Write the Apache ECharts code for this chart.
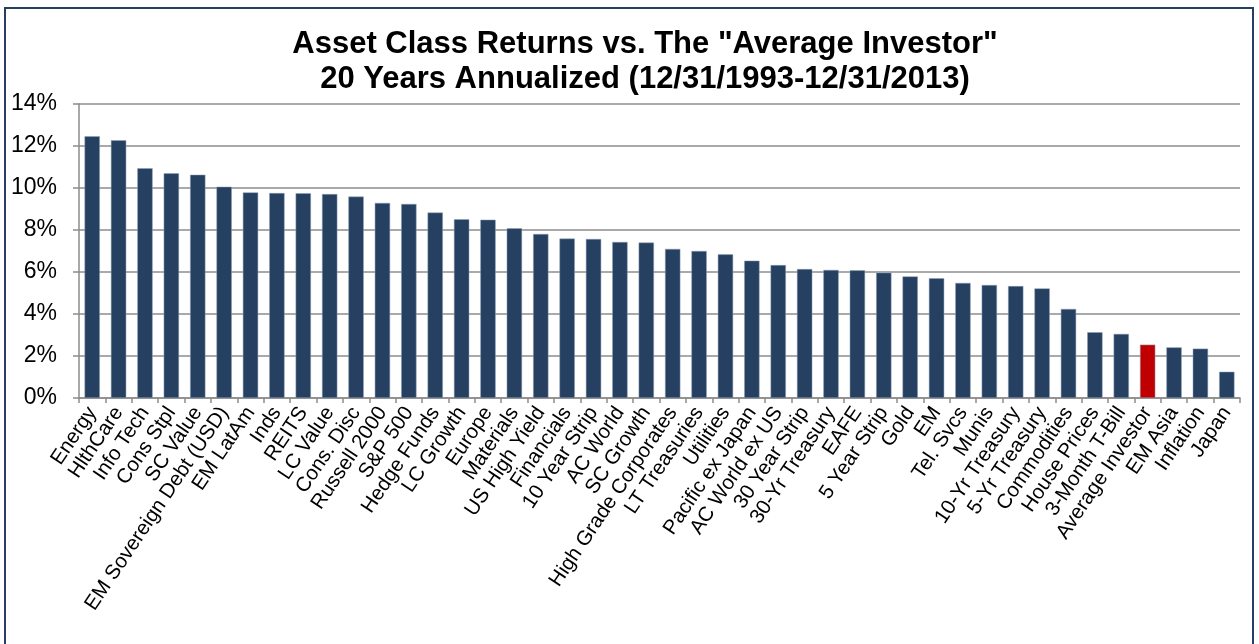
<!DOCTYPE html>
<html>
<head>
<meta charset="utf-8">
<script src="https://cdn.jsdelivr.net/npm/echarts@6/dist/echarts.min.js"></script>
<style>
  html, body { margin: 0; padding: 0; background: #fff; }
  #chart { width: 1259px; height: 644px; }
</style>
</head>
<body>
<div id="chart"></div>
<script>
// asset classes, sorted by 20y annualized return
var categories = ['Energy', 'HlthCare', 'Info Tech', 'Cons Stpl', 'SC Value', 'EM Sovereign Debt (USD)',
  'EM LatAm', 'Inds', 'REITS', 'LC Value', 'Cons. Disc', 'Russell 2000', 'S&P 500', 'Hedge Funds',
  'LC Growth', 'Europe', 'Materials', 'US High Yield', 'Financials', '10 Year Strip', 'AC World',
  'SC Growth', 'High Grade Corporates', 'LT Treasuries', 'Utilities', 'Pacific ex Japan',
  'AC World ex US', '30 Year Strip', '30-Yr Treasury', 'EAFE', '5 Year Strip', 'Gold', 'EM',
  'Tel. Svcs', 'Munis', '10-Yr Treasury', '5-Yr Treasury', 'Commodities', 'House Prices',
  '3-Month T-Bill', 'Average Investor', 'EM Asia', 'Inflation', 'Japan'];

var returns = [12.46, 12.27, 10.94, 10.70, 10.63, 10.06,
  9.79, 9.76, 9.75, 9.71, 9.59, 9.29, 9.24, 8.83,
  8.51, 8.49, 8.08, 7.81, 7.59, 7.57, 7.43,
  7.40, 7.10, 7.00, 6.84, 6.54,
  6.33, 6.14, 6.10, 6.08, 5.97, 5.79, 5.70,
  5.48, 5.38, 5.33, 5.22, 4.24, 3.13,
  3.05, 2.54, 2.41, 2.35, 1.25];

var highlight = 'Average Investor';
var yTicks = { min: 0, max: 14, step: 2 };

var chart = echarts.init(document.getElementById('chart'));

var barData = returns.map(function (v, i) {
  return {
    value: v,
    itemStyle: { color: categories[i] === highlight ? '#c00000' : '#264061' }
  };
});

chart.setOption({
  animation: false,
  textStyle: { fontFamily: 'Liberation Sans, Arial, sans-serif' },
  graphic: [{
    type: 'rect',
    shape: { x: 5, y: 8, width: 1248, height: 660 },
    style: { fill: 'none', stroke: '#243f60', lineWidth: 2 },
    silent: true
  }],
  title: {
    text: 'Asset Class Returns vs. The "Average Investor"\n20 Years Annualized (12/31/1993-12/31/2013)',
    left: 640,
    textAlign: 'center',
    top: 22,
    textStyle: {
      fontSize: 31,
      fontWeight: 'bold',
      color: '#000',
      lineHeight: 35,
      fontFamily: 'Liberation Sans, Arial, sans-serif'
    }
  },
  grid: { left: 79, right: 19, top: 104, bottom: 246, containLabel: false },
  xAxis: {
    type: 'category',
    data: categories,
    axisLine: { lineStyle: { color: '#8c8c8c', width: 1.5 } },
    axisTick: { show: true, length: 5, lineStyle: { color: '#8c8c8c', width: 1.5 } },
    axisLabel: {
      interval: 0,
      rotate: 56,
      fontSize: 20.5,
      color: '#000',
      margin: 11
    }
  },
  yAxis: {
    type: 'value',
    min: yTicks.min,
    max: yTicks.max,
    interval: yTicks.step,
    axisLine: { show: true, lineStyle: { color: '#8c8c8c', width: 1.5 } },
    axisTick: { show: true, length: 6, lineStyle: { color: '#8c8c8c', width: 1.5 } },
    splitLine: { lineStyle: { color: '#8c8c8c', width: 1.5 } },
    axisLabel: {
      formatter: '{value}%',
      fontSize: 23,
      color: '#000',
      margin: 22
    }
  },
  series: [{
    type: 'bar',
    data: barData,
    barCategoryGap: '42%',
    itemStyle: { borderColor: '#8ea0b8', borderWidth: 0.5 }
  }]
});
</script>
</body>
</html>
